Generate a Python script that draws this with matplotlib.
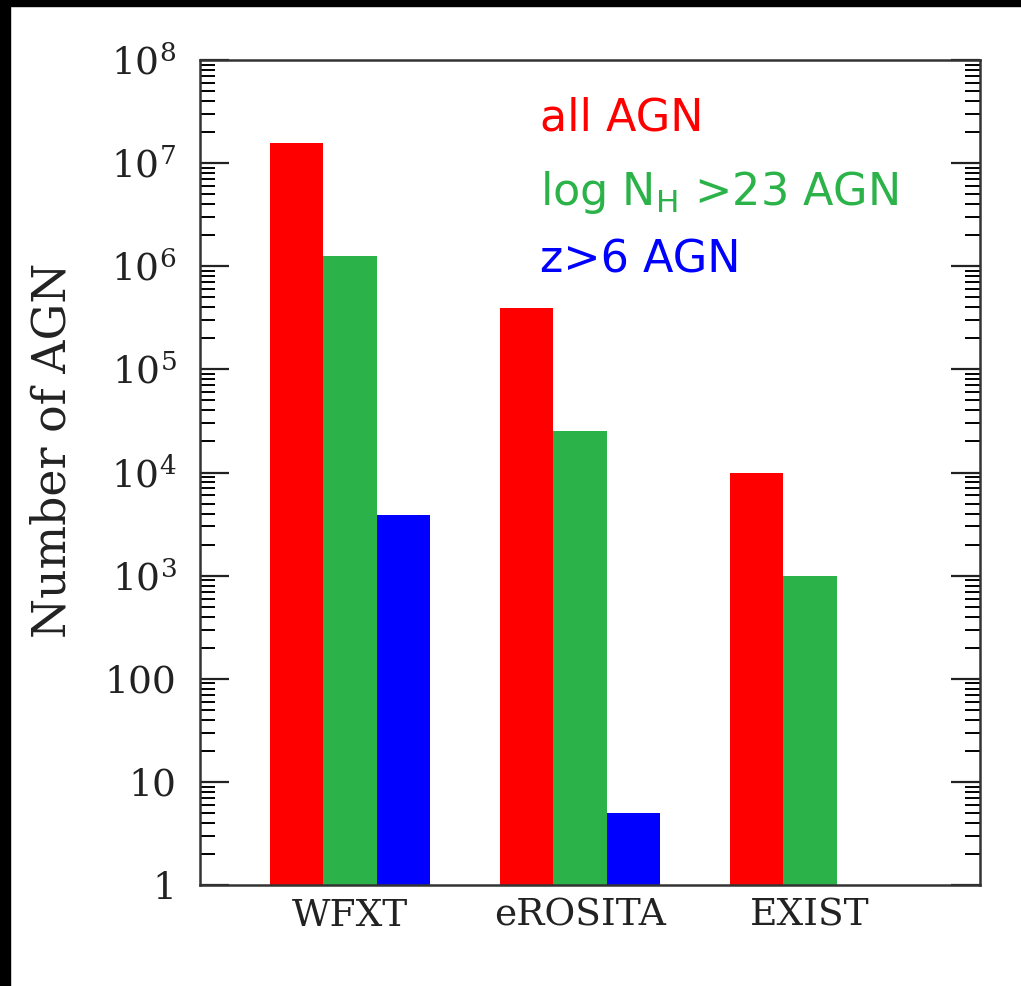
import numpy as np
import matplotlib
matplotlib.use("Agg")
import matplotlib.pyplot as plt
from matplotlib.ticker import FixedLocator, FixedFormatter, LogLocator, NullFormatter
from matplotlib.patches import Rectangle

# ---- data ----
surveys = ["WFXT", "eROSITA", "EXIST"]
all_agn = [1.57e7, 3.95e5, 1.0e4]
nh23_agn = [1.25e6, 2.5e4, 1.0e3]
z6_agn = [3.9e3, 5.0, np.nan]
series_labels = ["all AGN", "log N$_\\mathdefault{H}$ >23 AGN", "z>6 AGN"]
series_colors = ["#ff0000", "#2bb34a", "#0000ff"]
ytick_vals = [1, 10, 100, 1e3, 1e4, 1e5, 1e6, 1e7, 1e8]
ytick_labels = ["1", "10", "100", "$\\mathdefault{10^{3}}$", "$\\mathdefault{10^{4}}$",
                "$\\mathdefault{10^{5}}$", "$\\mathdefault{10^{6}}$",
                "$\\mathdefault{10^{7}}$", "$\\mathdefault{10^{8}}$"]
ylabel = "Number of AGN"

fig = plt.figure(figsize=(10.21, 9.86), dpi=100)
fig.patch.set_facecolor("white")
# black frame strips (left and top)
fig.patches.append(Rectangle((0, 0), 10 / 1021, 1, transform=fig.transFigure,
                             color="black", zorder=10))
fig.patches.append(Rectangle((0, 1 - 6 / 986), 1, 6 / 986, transform=fig.transFigure,
                             color="black", zorder=10))

ax = fig.add_axes([200 / 1021, (986 - 885) / 986, 780 / 1021, 825 / 986])

x = np.arange(len(surveys))
w = 0.232
for i, (vals, col) in enumerate(zip([all_agn, nh23_agn, z6_agn], series_colors)):
    ax.bar(x + (i - 1) * w, vals, width=w, color=col, linewidth=0, zorder=2)

ax.set_yscale("log")
ax.set_ylim(1, 1e8)
ax.set_xlim(-0.652, 2.739)

serif = ["DejaVu Serif"]
ax.yaxis.set_major_locator(FixedLocator(ytick_vals))
ax.yaxis.set_major_formatter(FixedFormatter(ytick_labels))
ax.yaxis.set_minor_locator(LogLocator(base=10, subs=np.arange(2, 10), numticks=20))
ax.yaxis.set_minor_formatter(NullFormatter())
ax.tick_params(axis="y", which="major", direction="in", length=21, width=1.6,
               left=True, right=True, pad=17, labelsize=27, colors="#222222")
ax.tick_params(axis="y", which="minor", direction="in", length=10.5, width=1.4,
               left=True, right=True)
for lab in ax.get_yticklabels():
    lab.set_fontfamily(serif)

ax.set_xticks(x)
ax.set_xticklabels(surveys, fontfamily=serif, fontsize=27, color="#222222")
ax.tick_params(axis="x", which="both", length=0, pad=9)

for s in ax.spines.values():
    s.set_linewidth(1.8)
    s.set_color("#333333")

fig.text(53 / 1021, 1 - 450 / 986, ylabel, rotation=90, ha="center", va="center",
         fontfamily=serif, fontsize=33, color="#222222")

# legend-like coloured labels
ys = [130, 205, 273]
for lab, col, yy in zip(series_labels, series_colors, ys):
    fig.text(540 / 1021, 1 - yy / 986, lab, color=col, fontsize=32,
             fontfamily=["DejaVu Sans"], ha="left", va="baseline")

fig.savefig("out.png", dpi=100, facecolor="white")
